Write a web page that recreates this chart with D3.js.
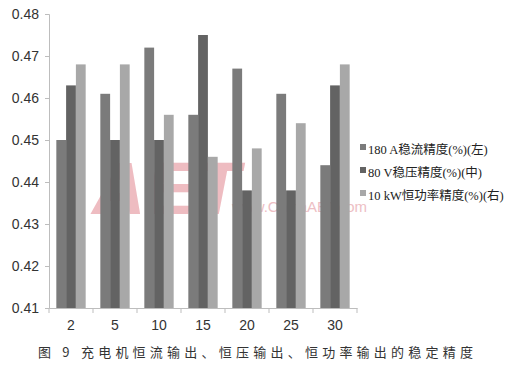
<!DOCTYPE html>
<html>
<head>
<meta charset="utf-8">
<script src="https://cdn.jsdelivr.net/npm/d3@7"></script>
<style>
  body { margin: 0; background: #fff; }
  svg { display: block; }
</style>
</head>
<body>
<div id="chart"></div>
<script>
var width = 509, height = 368;
var margin = {top: 14, left: 49, right: 152, bottom: 60};

// Data
var categories = ["2", "5", "10", "15", "20", "25", "30"];
var seriesNames = ["180 A稳流精度(%)(左)", "80 V稳压精度(%)(中)", "10 kW恒功率精度(%)(右)"];
var currentVals = [0.450, 0.461, 0.472, 0.456, 0.467, 0.461, 0.444];
var voltageVals = [0.463, 0.450, 0.450, 0.475, 0.438, 0.438, 0.463];
var powerVals   = [0.468, 0.468, 0.456, 0.446, 0.448, 0.454, 0.468];
var yTicks = [0.41, 0.42, 0.43, 0.44, 0.45, 0.46, 0.47, 0.48];
var colors = ["#7b7b7b", "#636363", "#a8a8a8"];
var caption = "图 9  充电机恒流输出、恒压输出、恒功率输出的稳定精度";

var allSeries = [currentVals, voltageVals, powerVals];
var rows = categories.map(function(c, i) {
    return {cat: c, vals: allSeries.map(function(s, j) { return {key: j, v: s[i]}; })};
});

var svg = d3.select("#chart").append("svg")
    .attr("width", width)
    .attr("height", height);

var plotBottom = 308;
var xScale = d3.scaleBand()
    .domain(categories)
    .range([margin.left, width - margin.right])
    .paddingInner(0).paddingOuter(0);

var x1 = d3.scaleBand()
    .domain([0, 1, 2])
    .range([0, xScale.bandwidth()])
    .paddingInner(0).paddingOuter(0.75);

var yScale = d3.scaleLinear()
    .domain([0.41, 0.48])
    .range([plotBottom, margin.top]);

// watermark (faint)
svg.append("text")
    .attr("x", 92).attr("y", 214)
    .attr("font-family", "Liberation Sans, Arial, sans-serif")
    .attr("font-size", 74).attr("font-weight", "bold")
    .attr("font-style", "italic")
    .attr("fill", "#e8a0a8").attr("opacity", 0.7)
    .text("AET");
svg.append("text")
    .attr("x", 232).attr("y", 212)
    .attr("font-family", "Liberation Sans, Arial, sans-serif")
    .attr("font-size", 15)
    .attr("fill", "#eab0b6").attr("opacity", 0.8)
    .text("www.ChinaAET.com");

// bars
var groups = svg.selectAll("g.grp")
    .data(rows)
    .enter().append("g")
    .attr("class", "grp")
    .attr("transform", function(d) { return "translate(" + xScale(d.cat) + ",0)"; });

groups.selectAll("rect")
    .data(function(d) { return d.vals; })
    .enter().append("rect")
    .attr("x", function(d) { return x1(d.key); })
    .attr("y", function(d) { return yScale(d.v); })
    .attr("width", x1.bandwidth())
    .attr("height", function(d) { return plotBottom - yScale(d.v); })
    .attr("fill", function(d) { return colors[d.key]; });

// y axis
var yAxis = svg.append("g")
    .attr("transform", "translate(" + margin.left + ",0)")
    .call(d3.axisLeft(yScale).tickValues(yTicks).tickFormat(d3.format(".2f")).tickSize(4).tickPadding(6));
yAxis.select(".domain").attr("stroke", "#bdbdbd");
yAxis.selectAll(".tick line").attr("stroke", "#bdbdbd");
yAxis.selectAll("text")
    .attr("font-family", "Liberation Sans, Arial, sans-serif")
    .attr("font-size", 14).attr("fill", "#333");

// x axis
var xAxis = svg.append("g")
    .attr("transform", "translate(0," + plotBottom + ")")
    .call(d3.axisBottom(xScale).tickSize(0).tickPadding(12));
xAxis.select(".domain").attr("stroke", "#bdbdbd");
xAxis.selectAll("text")
    .attr("font-family", "Liberation Sans, Arial, sans-serif")
    .attr("font-size", 14).attr("fill", "#333");
var bounds = categories.map(function(c) { return xScale(c); }).concat([xScale.range()[1]]);
xAxis.selectAll("line.bound")
    .data(bounds)
    .enter().append("line")
    .attr("class", "bound")
    .attr("x1", function(d) { return d; }).attr("x2", function(d) { return d; })
    .attr("y1", 0).attr("y2", 5)
    .attr("stroke", "#bdbdbd");

// legend
var legend = svg.selectAll("g.leg")
    .data(seriesNames)
    .enter().append("g")
    .attr("class", "leg")
    .attr("transform", function(d, i) { return "translate(360," + (149 + i * 23) + ")"; });
legend.append("rect")
    .attr("x", 0).attr("y", -5)
    .attr("width", 6).attr("height", 6)
    .attr("fill", function(d, i) { return colors[i]; });
legend.append("text")
    .attr("x", 8).attr("y", 1)
    .attr("dy", "0.3em")
    .attr("font-family", "Liberation Serif, 'Noto Sans CJK SC', serif")
    .attr("font-size", 12.5).attr("fill", "#222")
    .text(function(d) { return d; });

// caption
svg.append("text")
    .attr("x", 38).attr("y", 357)
    .attr("textLength", 435).attr("lengthAdjust", "spacing")
    .attr("font-family", "'Noto Sans CJK SC', sans-serif")
    .attr("font-size", 13).attr("fill", "#333")
    .text(caption);
</script>
</body>
</html>
